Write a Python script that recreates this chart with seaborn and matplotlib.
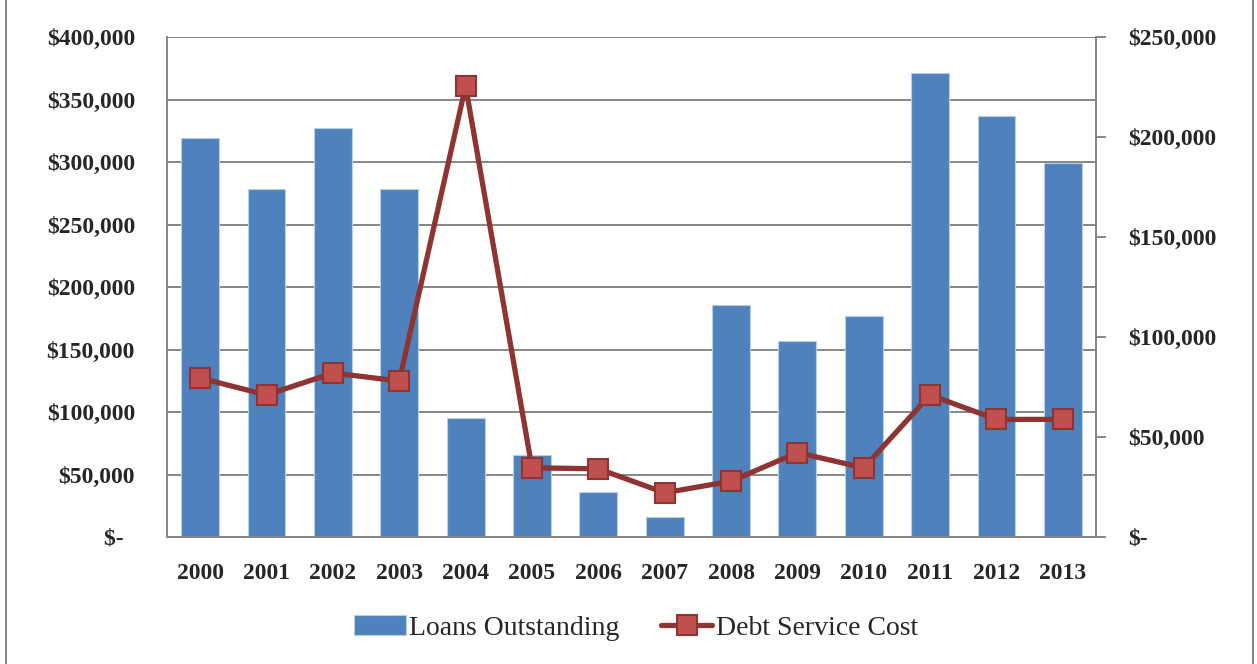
import numpy as np
import pandas as pd
import matplotlib
matplotlib.use('Agg')
import matplotlib.pyplot as plt
import seaborn as sns
from matplotlib.ticker import FuncFormatter, MultipleLocator
from matplotlib.patches import Rectangle

# data
years = ['2000', '2001', '2002', '2003', '2004', '2005', '2006',
         '2007', '2008', '2009', '2010', '2011', '2012', '2013']
loans = [319000, 278500, 327500, 278500, 95500, 66000, 36000,
         15700, 185500, 156500, 177000, 371000, 336500, 299500]
debt_cost = [79500, 71000, 82000, 78000, 225500, 34600, 34100,
             22100, 27900, 42200, 34600, 71000, 58800, 58800]

df = pd.DataFrame({'year': years, 'loans': loans, 'debt': debt_cost})

sns.set_style('white')
plt.rcParams['font.family'] = ['Liberation Serif', 'DejaVu Serif']

bar_col = '#4F81BD'
line_col = '#8E3533'
mark_face = '#C0504D'
grid_col = '#868686'

fig = plt.figure(figsize=(12.57, 6.64), dpi=100)
ax = fig.add_axes([167/1257, 1 - 537/664, (1096-167)/1257, 500/664])
ax2 = ax.twinx()

sns.barplot(data=df, x='year', y='loans', color=bar_col, width=0.57,
            saturation=1, ax=ax, label='Loans Outstanding', zorder=2)
for p in ax.patches:
    p.set_edgecolor('#B9CDE5')
    p.set_linewidth(0.8)

sns.pointplot(data=df, x='year', y='debt', color=line_col, ax=ax2,
              markers='s', linewidth=3.8, markersize=14,
              markerfacecolor=mark_face, markeredgecolor=line_col,
              markeredgewidth=1.5, label='Debt Service Cost')
for a in (ax, ax2):
    if a.get_legend() is not None:
        a.get_legend().remove()

ax.set_xlim(-0.5, 13.5)
ax.set_ylim(0, 400000)
ax2.set_ylim(0, 250000)
ax.yaxis.set_major_locator(MultipleLocator(50000))
ax2.yaxis.set_major_locator(MultipleLocator(50000))

def money(v, pos):
    if v == 0:
        return '$-  '
    return '${:,.0f}'.format(v)

ax.yaxis.set_major_formatter(FuncFormatter(money))
ax2.yaxis.set_major_formatter(FuncFormatter(lambda v, p: '$-' if v == 0 else '${:,.0f}'.format(v)))

ax.grid(axis='y', color=grid_col, linewidth=1.4, zorder=0)
ax.set_axisbelow(True)
ax.set_xlabel('')
ax.set_ylabel('')
ax2.set_ylabel('')

for a in (ax, ax2):
    for s in a.spines.values():
        s.set_color(grid_col)
        s.set_linewidth(1.4)
ax.spines['top'].set_visible(False)
ax2.spines['top'].set_visible(False)
ax2.spines['left'].set_visible(False)
ax2.spines['bottom'].set_visible(False)
ax.spines['right'].set_visible(False)

ax.tick_params(axis='y', length=0, pad=23, labelsize=17)
ax.tick_params(axis='x', length=0, pad=19, labelsize=17)
ax2.tick_params(axis='y', length=7, width=1.4, color=grid_col, direction='out',
                pad=16, labelsize=17)
for lab in ax.get_yticklabels() + ax.get_xticklabels() + ax2.get_yticklabels():
    lab.set_fontweight('bold')

h1, l1 = ax.get_legend_handles_labels()
h2, l2 = ax2.get_legend_handles_labels()
leg = fig.legend(h1 + h2, l1 + l2, loc='center', bbox_to_anchor=(0.506, 0.054),
                 ncol=2, frameon=False, fontsize=20, handlelength=1.85,
                 handletextpad=0.12, columnspacing=1.5)

fig.patches.append(Rectangle((6/1257, -0.01), (1253-6)/1257, 1.05,
                             transform=fig.transFigure, fill=False,
                             edgecolor=grid_col, linewidth=1.5))

fig.savefig('out.png', dpi=100)
